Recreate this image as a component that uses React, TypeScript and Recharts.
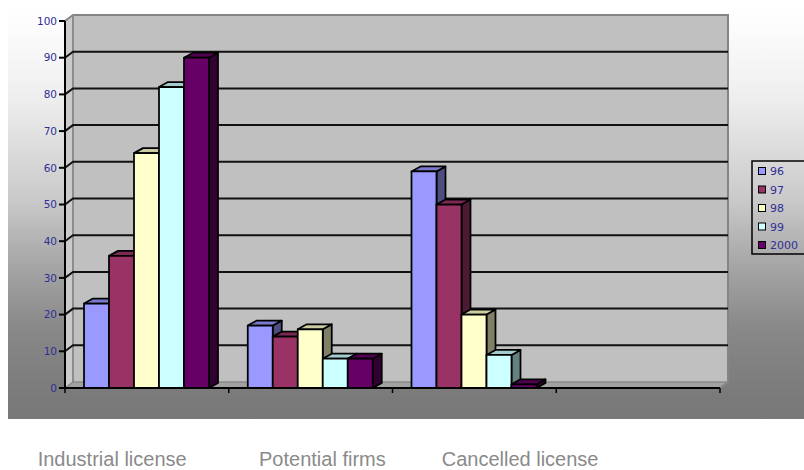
import React from 'react';
import { BarChart, Bar, XAxis, YAxis, ReferenceArea } from 'recharts';

// ---- data ----
const categories = ['Industrial license', 'Potential firms', 'Cancelled license', ''];
const seriesNames = ['96', '97', '98', '99', '2000'];
const values96 = [23, 17, 59, null];
const values97 = [36, 14, 50, null];
const values98 = [64, 16, 20, null];
const values99 = [82, 8, 9, null];
const values2000 = [90, 8, 1, null];
const yTicks = [0, 10, 20, 30, 40, 50, 60, 70, 80, 90, 100];
const gridValues = [10, 20, 30, 40, 50, 60, 70, 80, 90];

// ---- styling ----
const seriesColors = ['#9999ff', '#993366', '#ffffcc', '#ccffff', '#660066'];
const seriesValues = [values96, values97, values98, values99, values2000];
const AXIS_TEXT = '#2f2f97';
const TICK_FONT = 'DejaVu Sans, Verdana, sans-serif';
const LABEL_FONT = 'Liberation Sans, Arial, sans-serif';

// depth offsets for the pseudo-3D walls and bars
const WALL_DX = 8;
const WALL_DY = -6;
const BAR_DX = 9;
const BAR_DY = -5;

const data = categories.map((category, i) => {
  const row: Record<string, string | number | null> = { category };
  seriesNames.forEach((name, s) => {
    row[name] = seriesValues[s][i];
  });
  return row;
});

const shade = (hex: string, k: number) => {
  const n = parseInt(hex.slice(1), 16);
  const r = Math.round(((n >> 16) & 255) * k);
  const g = Math.round(((n >> 8) & 255) * k);
  const b = Math.round((n & 255) * k);
  return `rgb(${r},${g},${b})`;
};

// back wall, side wall and floor of the 3D plot box
const WallShape = (props: any) => {
  const { x, y, width, height } = props;
  if (x == null || y == null) return <g />;
  const bx = x + WALL_DX;
  const by = y + WALL_DY;
  const fy = y + height;
  const bfy = by + height;
  return (
    <g>
      <polygon points={`${x},${y} ${bx},${by} ${bx},${bfy} ${x},${fy}`} fill="#cbcbcb" />
      <rect x={bx} y={by} width={width} height={height} fill="#c0c0c0" />
      <polygon
        points={`${x},${fy} ${bx},${bfy} ${bx + width},${bfy} ${x + width},${fy}`}
        fill="#a2a2a2"
      />
      <polyline
        points={`${x},${y} ${bx},${by} ${bx + width},${by} ${bx + width},${bfy} ${x + width},${fy}`}
        fill="none"
        stroke="#858585"
        strokeWidth={2}
      />
      <line x1={bx} y1={by} x2={bx} y2={bfy} stroke="#8c8c8c" strokeWidth={2} />
      <line x1={bx} y1={bfy} x2={bx + width} y2={bfy} stroke="#8a8a8a" strokeWidth={1.5} />
      <line x1={x} y1={fy} x2={bx} y2={bfy} stroke="#8a8a8a" strokeWidth={1.5} />
    </g>
  );
};

// horizontal gridline running across the side wall and back wall
const GridShape = (props: any) => {
  const { x, y, width } = props;
  if (x == null || y == null) return <g />;
  return (
    <polyline
      points={`${x},${y} ${x + WALL_DX},${y + WALL_DY} ${x + WALL_DX + width},${y + WALL_DY}`}
      fill="none"
      stroke="#111"
      strokeWidth={2}
    />
  );
};

const makeBar3D = (color: string) => (props: any) => {
  const { x, y, width, height, value } = props;
  if (value == null || x == null || y == null) return <g />;
  const top = shade(color, 0.8);
  const side = shade(color, 0.5);
  const h = Math.max(height, 0);
  return (
    <g stroke="#000" strokeWidth={1.75} strokeLinejoin="round">
      <polygon
        points={`${x + width},${y} ${x + width + BAR_DX},${y + BAR_DY} ${x + width + BAR_DX},${y + h + BAR_DY} ${x + width},${y + h}`}
        fill={side}
      />
      <polygon
        points={`${x},${y} ${x + BAR_DX},${y + BAR_DY} ${x + width + BAR_DX},${y + BAR_DY} ${x + width},${y}`}
        fill={top}
      />
      <rect x={x} y={y} width={width} height={h} fill={color} />
    </g>
  );
};

const barShapes = seriesColors.map((c) => makeBar3D(c));

// tick marks sit on the category boundaries rather than the centres
const BoundaryTick = (props: any) => {
  const { x, y, payload, index, visibleTicksCount } = props;
  const half = payload && typeof payload.offset === 'number' ? payload.offset : 655 / 8;
  const xs = [x - half];
  if (index === visibleTicksCount - 1) xs.push(x + half);
  return (
    <g>
      {xs.map((lx, i) => (
        <line key={i} x1={lx} y1={y} x2={lx} y2={y + 5} stroke="#000" strokeWidth={1.5} />
      ))}
    </g>
  );
};

const labelX = [37.7, 259, 441.7];
const legendTop = 161;
const legendLeft = 752;
const legendStep = 18.5;

export default function App() {
  return (
    <div
      style={{
        position: 'fixed',
        left: 0,
        top: 0,
        width: 804,
        height: 470,
        overflow: 'hidden',
        background: '#ffffff',
      }}
    >
      <div
        style={{
          position: 'absolute',
          left: 8,
          top: 8,
          width: 796,
          height: 411,
          background:
            'linear-gradient(180deg, #ffffff 0%, #fbfbfb 6%, #eeeeee 22%, #c9c9c9 47%, #a9a9a9 61%, #888888 78%, #7a7a7a 95%, #787878 100%)',
        }}
      />
      <div style={{ position: 'absolute', left: 8, top: 8 }}>
        <BarChart
          width={796}
          height={412}
          data={data}
          margin={{ top: 13, right: 84, bottom: 22, left: 0 }}
          barCategoryGap={19}
          barGap={0}
        >
          <ReferenceArea y1={0} y2={100} shape={<WallShape />} ifOverflow="visible" />
          {gridValues.map((v) => (
            <ReferenceArea key={v} y1={0} y2={v} shape={<GridShape />} ifOverflow="visible" />
          ))}
          <XAxis
            dataKey="category"
            height={10}
            interval={0}
            tickSize={0}
            tickMargin={0}
            tickLine={false}
            axisLine={{ stroke: '#000', strokeWidth: 2 }}
            tick={<BoundaryTick />}
          />
          <YAxis
            width={57}
            domain={[0, 100]}
            ticks={yTicks}
            interval={0}
            tickSize={6}
            tickMargin={2}
            axisLine={{ stroke: '#000', strokeWidth: 2 }}
            tickLine={{ stroke: '#000', strokeWidth: 2 }}
            tick={{ fill: AXIS_TEXT, fontSize: 10.5, fontFamily: TICK_FONT }}
          />
          {seriesNames.map((name, i) => (
            <Bar
              key={name}
              dataKey={name}
              name={name}
              fill={seriesColors[i]}
              shape={barShapes[i]}
              isAnimationActive={false}
            />
          ))}
        </BarChart>
      </div>
      <svg
        width={804}
        height={470}
        style={{ position: 'absolute', left: 0, top: 0, pointerEvents: 'none' }}
      >
        <rect
          x={legendLeft}
          y={legendTop}
          width={60}
          height={93}
          fill="none"
          stroke="#000"
          strokeWidth={1.5}
        />
        {seriesNames.map((name, i) => {
          const cy = legendTop + 10 + i * legendStep;
          return (
            <g key={name}>
              <rect x={758.5} y={cy - 3.5} width={7} height={7} fill={seriesColors[i]} stroke="#000" strokeWidth={1} />
              <text x={770} y={cy + 4} fontSize={11} fontFamily={TICK_FONT} fill={AXIS_TEXT}>
                {name}
              </text>
            </g>
          );
        })}
        {categories.slice(0, 3).map((c, i) => (
          <text key={c} x={labelX[i]} y={466} fontSize={20} fontFamily={LABEL_FONT} fill="#8a8a8a">
            {c}
          </text>
        ))}
      </svg>
    </div>
  );
}
